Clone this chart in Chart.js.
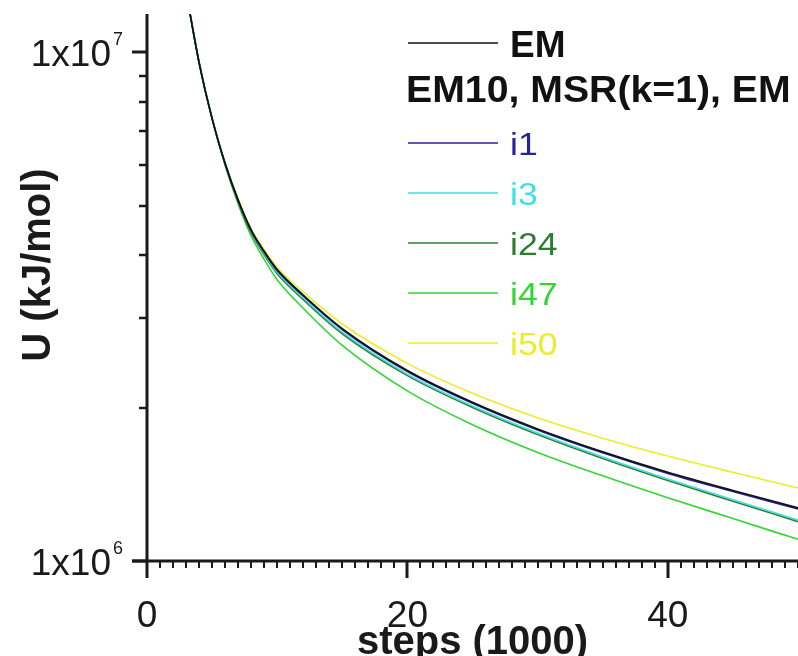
<!DOCTYPE html>
<html>
<head>
<meta charset="utf-8">
<script src="https://cdn.jsdelivr.net/npm/chart.js@4.4.1/dist/chart.umd.min.js"></script>
<style>
  html, body { margin: 0; padding: 0; background: #fff; }
</style>
</head>
<body>
<canvas id="chart" width="798" height="656"></canvas>
<script>
// steps in units of 1000, energies in kJ/mol
var steps = [3, 4, 5, 6, 7, 8, 9, 10, 12, 15, 20, 25, 30, 35, 40, 45, 50];
var uEM  = [1.318e7, 9.55e6, 7.41e6, 6.053e6, 5.129e6, 4.477e6, 4.064e6, 3.741e6, 3.334e6, 2.864e6, 2.369e6, 2.051e6, 1.818e6, 1.639e6, 1.494e6, 1.376e6, 1.272e6];
var uI1  = [1.318e7, 9.55e6, 7.41e6, 6.03e6, 5.106e6, 4.456e6, 4.045e6, 3.724e6, 3.319e6, 2.851e6, 2.358e6, 2.042e6, 1.81e6, 1.632e6, 1.487e6, 1.37e6, 1.266e6];
var uI3  = [1.318e7, 9.55e6, 7.41e6, 6.053e6, 5.117e6, 4.447e6, 4.027e6, 3.699e6, 3.289e6, 2.818e6, 2.331e6, 2.018e6, 1.785e6, 1.602e6, 1.45e6, 1.32e6, 1.203e6];
var uI24 = [1.318e7, 9.55e6, 7.41e6, 6.025e6, 5.082e6, 4.416e6, 3.999e6, 3.673e6, 3.266e6, 2.798e6, 2.315e6, 2.004e6, 1.773e6, 1.591e6, 1.44e6, 1.311e6, 1.195e6];
var uI47 = [1.318e7, 9.55e6, 7.41e6, 5.997e6, 5.035e6, 4.355e6, 3.917e6, 3.573e6, 3.14e6, 2.654e6, 2.16e6, 1.853e6, 1.635e6, 1.471e6, 1.332e6, 1.212e6, 1.103e6];
var uI50 = [1.327e7, 9.62e6, 7.46e6, 6.067e6, 5.153e6, 4.498e6, 4.092e6, 3.776e6, 3.381e6, 2.924e6, 2.447e6, 2.137e6, 1.913e6, 1.744e6, 1.608e6, 1.494e6, 1.392e6];

var seriesNames  = ['EM', 'i1', 'i3', 'i24', 'i47', 'i50'];
var seriesValues = [uEM, uI1, uI3, uI24, uI47, uI50];
var seriesColors = ['#111111', '#24249c', '#40e0e0', '#2e7d32', '#33d633', '#ecec2a'];
var legendHeader = 'EM10, MSR(k=1), EM';

var xMin = 0, xMax = 50;
var yMin = 1e6, yMax = 1.19e7;
var xMajorTicks = [0, 20, 40];
var yMajorTicks = [1e6, 1e7];
var xTitle = 'steps (1000)';
var yTitle = 'U (kJ/mol)';

var FONT = '"Liberation Sans", Arial, sans-serif';
var INK = '#1a1a1a';

var datasets = seriesNames.map(function(name, i) {
  return {
    label: name,
    data: steps.map(function(s, j) { return {x: s, y: seriesValues[i][j]}; }),
    borderColor: seriesColors[i],
    borderWidth: 1.6,
    pointRadius: 0,
    fill: false,
    cubicInterpolationMode: 'monotone'
  };
});

// text drawn a little wider than the font's natural width
function wideText(ctx, text, x, y, sx) {
  ctx.save();
  ctx.translate(x, y);
  ctx.scale(sx, 1);
  ctx.fillText(text, 0, 0);
  ctx.restore();
}

// axes, ticks, tick labels, titles and the legend box
var decor = {
  id: 'decor',
  afterDraw: function(chart) {
    var ctx = chart.ctx, xs = chart.scales.x, ys = chart.scales.y, a = chart.chartArea;
    ctx.save();
    ctx.strokeStyle = INK;
    ctx.fillStyle = INK;
    ctx.lineCap = 'butt';

    // axis lines
    ctx.lineWidth = 3;
    ctx.beginPath();
    ctx.moveTo(a.left, a.top);
    ctx.lineTo(a.left, a.bottom);
    ctx.moveTo(a.left - 15, a.bottom);
    ctx.lineTo(a.right, a.bottom);
    ctx.stroke();

    // x ticks, one per 1000 steps
    for (var i = xMin; i <= xMax; i++) {
      var px = Math.round(xs.getPixelForValue(i));
      var major = xMajorTicks.indexOf(i) >= 0;
      ctx.lineWidth = major ? 3 : 2;
      ctx.beginPath();
      ctx.moveTo(px, a.bottom);
      ctx.lineTo(px, a.bottom + (major ? 17 : 7));
      ctx.stroke();
    }
    ctx.font = '37px ' + FONT;
    ctx.textAlign = 'center';
    ctx.textBaseline = 'alphabetic';
    xMajorTicks.forEach(function(v) {
      ctx.fillText(String(v), xs.getPixelForValue(v), a.bottom + 66);
    });

    // y ticks on the log axis
    for (var e = 6; e <= 7; e++) {
      for (var m = 1; m <= 9; m++) {
        var v = m * Math.pow(10, e);
        if (v < yMin || v > yMax) continue;
        var py = Math.round(ys.getPixelForValue(v));
        var maj = m === 1;
        ctx.lineWidth = maj ? 3 : 2.5;
        ctx.beginPath();
        ctx.moveTo(a.left, py);
        ctx.lineTo(a.left - (maj ? 15 : 8), py);
        ctx.stroke();
      }
    }
    yMajorTicks.forEach(function(v) {
      var py = ys.getPixelForValue(v);
      var exp = Math.round(Math.log10(v));
      ctx.font = '37px ' + FONT;
      ctx.textAlign = 'right';
      ctx.fillText('1x10', a.left - 36, py + 14);
      ctx.font = '18px ' + FONT;
      ctx.textAlign = 'left';
      ctx.fillText(String(exp), a.left - 34, py - 7);
    });

    // axis titles
    ctx.font = 'bold 40px ' + FONT;
    ctx.textAlign = 'center';
    ctx.fillText(xTitle, (a.left + a.right) / 2, 654);
    ctx.save();
    ctx.translate(50, 265);
    ctx.rotate(-Math.PI / 2);
    ctx.fillText(yTitle, 0, 0);
    ctx.restore();

    // legend
    var lx0 = 408, lx1 = 498, tx = 510;
    ctx.lineWidth = 1.6;
    ctx.strokeStyle = seriesColors[0];
    ctx.beginPath(); ctx.moveTo(lx0, 43); ctx.lineTo(lx1, 43); ctx.stroke();
    ctx.textAlign = 'left';
    ctx.font = 'bold 37px ' + FONT;
    ctx.fillStyle = seriesColors[0];
    ctx.fillText(seriesNames[0], tx, 57);
    wideText(ctx, legendHeader, 406, 102, 1.06);
    ctx.font = '31px ' + FONT;
    for (var k = 1; k < seriesNames.length; k++) {
      var ly = 143 + (k - 1) * 50;
      ctx.strokeStyle = seriesColors[k];
      ctx.beginPath(); ctx.moveTo(lx0, ly); ctx.lineTo(lx1, ly); ctx.stroke();
      ctx.fillStyle = seriesColors[k];
      wideText(ctx, seriesNames[k], tx, ly + 12, 1.15);
    }
    ctx.restore();
  }
};

new Chart(document.getElementById('chart'), {
  type: 'line',
  data: { datasets: datasets },
  options: {
    responsive: false,
    animation: false,
    events: [],
    layout: { padding: { left: 147, right: 0, top: 14, bottom: 95 } },
    plugins: { legend: { display: false }, tooltip: { enabled: false } },
    scales: {
      x: {
        type: 'linear', min: xMin, max: xMax,
        grid: { display: false }, border: { display: false },
        ticks: { display: false },
        afterFit: function(s) { s.height = 0; }
      },
      y: {
        type: 'logarithmic', min: yMin, max: yMax,
        grid: { display: false }, border: { display: false },
        ticks: { display: false },
        afterFit: function(s) { s.width = 0; }
      }
    }
  },
  plugins: [decor]
});
</script>
</body>
</html>
